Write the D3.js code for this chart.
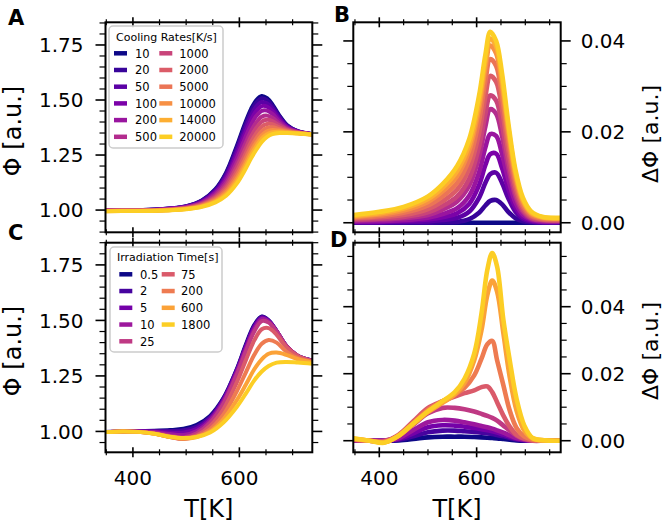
<!DOCTYPE html>
<html>
<head>
<meta charset="utf-8">
<script src="https://cdn.jsdelivr.net/npm/d3@7"></script>
<style>
body { margin: 0; background: #fff; }
text { font-family: "DejaVu Sans", sans-serif; fill: #000; }
</style>
</head>
<body>
<script>
// ---- data ----
const coolRates = ["10", "20", "50", "100", "200", "500", "1000", "2000", "5000", "10000", "14000", "20000"];
const irrTimes = ["0.5", "2", "5", "10", "25", "75", "200", "600", "1800"];

// panel A : Phi vs T for cooling rates
const tempA = [348, 400, 450, 500, 530, 555, 575, 595, 610, 622, 632, 642, 652, 662, 675, 690, 710, 737];
const phiCooling = [
  [1.000, 1.000, 1.004, 1.018, 1.045, 1.095, 1.170, 1.290, 1.390, 1.460, 1.500, 1.518, 1.508, 1.480, 1.430, 1.385, 1.358, 1.345],
  [1.000, 1.000, 1.004, 1.017, 1.044, 1.092, 1.165, 1.282, 1.380, 1.449, 1.489, 1.508, 1.499, 1.473, 1.426, 1.383, 1.358, 1.345],
  [0.999, 1.000, 1.003, 1.016, 1.041, 1.087, 1.156, 1.268, 1.363, 1.431, 1.471, 1.491, 1.485, 1.462, 1.420, 1.380, 1.357, 1.345],
  [0.999, 0.999, 1.003, 1.015, 1.038, 1.082, 1.147, 1.253, 1.344, 1.411, 1.451, 1.472, 1.470, 1.450, 1.412, 1.377, 1.356, 1.345],
  [0.998, 0.999, 1.002, 1.014, 1.035, 1.076, 1.136, 1.236, 1.323, 1.388, 1.428, 1.451, 1.452, 1.437, 1.404, 1.374, 1.355, 1.344],
  [0.998, 0.998, 1.001, 1.012, 1.032, 1.068, 1.123, 1.214, 1.296, 1.359, 1.399, 1.424, 1.429, 1.419, 1.394, 1.369, 1.354, 1.344],
  [0.997, 0.998, 1.000, 1.010, 1.028, 1.061, 1.111, 1.195, 1.272, 1.334, 1.374, 1.402, 1.410, 1.404, 1.385, 1.365, 1.352, 1.344],
  [0.997, 0.997, 0.999, 1.009, 1.025, 1.055, 1.100, 1.176, 1.249, 1.309, 1.349, 1.379, 1.391, 1.390, 1.376, 1.362, 1.351, 1.344],
  [0.996, 0.997, 0.999, 1.007, 1.022, 1.049, 1.089, 1.159, 1.228, 1.287, 1.327, 1.358, 1.373, 1.376, 1.368, 1.358, 1.350, 1.344],
  [0.996, 0.997, 0.998, 1.006, 1.019, 1.043, 1.080, 1.144, 1.209, 1.267, 1.307, 1.339, 1.358, 1.364, 1.361, 1.355, 1.349, 1.343],
  [0.995, 0.996, 0.998, 1.005, 1.017, 1.039, 1.072, 1.132, 1.195, 1.251, 1.291, 1.325, 1.345, 1.354, 1.356, 1.352, 1.349, 1.343],
  [0.995, 0.996, 0.997, 1.004, 1.015, 1.035, 1.065, 1.120, 1.180, 1.235, 1.275, 1.310, 1.333, 1.345, 1.350, 1.350, 1.348, 1.343]
];

// panel B : delta Phi vs T for cooling rates
const tempB = [347, 400, 450, 500, 530, 560, 585, 605, 618, 628, 640, 652, 665, 680, 695, 712, 735, 773];
const dPhiCooling = [
  [0, 0, 0, 0, 0, 0, 0, 0, 0, 0, 0, 0, 0, 0, 0, 0, 0, 0],
  [0, 0, 0, 0, 0.0001, 0.0002, 0.0008, 0.0022, 0.0038, 0.0048, 0.0050, 0.0041, 0.0024, 0.0010, 0.0003, 0.0001, 0, 0],
  [0.0001, 0.0001, 0.0002, 0.0003, 0.0006, 0.0011, 0.0025, 0.0055, 0.0088, 0.0107, 0.0110, 0.0088, 0.0054, 0.0024, 0.0009, 0.0003, 0.0001, 0.0001],
  [0.0002, 0.0002, 0.0004, 0.0007, 0.0012, 0.0021, 0.0042, 0.0083, 0.0127, 0.0151, 0.0152, 0.0121, 0.0075, 0.0034, 0.0013, 0.0005, 0.0002, 0.0002],
  [0.0003, 0.0004, 0.0006, 0.0011, 0.0019, 0.0032, 0.0060, 0.0111, 0.0166, 0.0195, 0.0191, 0.0152, 0.0095, 0.0044, 0.0018, 0.0007, 0.0003, 0.0003],
  [0.0005, 0.0007, 0.0010, 0.0017, 0.0029, 0.0047, 0.0082, 0.0145, 0.0212, 0.0250, 0.0240, 0.0192, 0.0121, 0.0057, 0.0024, 0.0009, 0.0005, 0.0004],
  [0.0007, 0.0009, 0.0013, 0.0023, 0.0037, 0.0058, 0.0098, 0.0167, 0.0240, 0.0280, 0.0269, 0.0216, 0.0137, 0.0066, 0.0028, 0.0011, 0.0006, 0.0005],
  [0.0009, 0.0012, 0.0017, 0.0030, 0.0047, 0.0073, 0.0120, 0.0197, 0.0278, 0.0323, 0.0310, 0.0250, 0.0160, 0.0078, 0.0034, 0.0014, 0.0007, 0.0006],
  [0.0011, 0.0015, 0.0022, 0.0038, 0.0058, 0.0088, 0.0140, 0.0225, 0.0312, 0.0360, 0.0345, 0.0278, 0.0180, 0.0090, 0.0040, 0.0017, 0.0009, 0.0008],
  [0.0013, 0.0018, 0.0027, 0.0046, 0.0069, 0.0103, 0.0160, 0.0250, 0.0340, 0.0390, 0.0373, 0.0302, 0.0198, 0.0100, 0.0046, 0.0020, 0.0011, 0.0009],
  [0.0015, 0.0021, 0.0031, 0.0052, 0.0077, 0.0114, 0.0172, 0.0265, 0.0355, 0.0405, 0.0388, 0.0315, 0.0210, 0.0108, 0.0050, 0.0022, 0.0012, 0.0010],
  [0.0017, 0.0024, 0.0035, 0.0058, 0.0085, 0.0125, 0.0185, 0.0280, 0.0370, 0.0420, 0.0400, 0.0330, 0.0220, 0.0115, 0.0055, 0.0025, 0.0013, 0.0011]
];

// panel C : Phi vs T for irradiation times
const tempC = [348, 380, 410, 440, 470, 495, 520, 545, 570, 595, 612, 628, 642, 655, 670, 688, 710, 737];
const phiIrr = [
  [0.997, 1.000, 1.002, 1.003, 1.006, 1.012, 1.030, 1.070, 1.150, 1.280, 1.390, 1.480, 1.518, 1.500, 1.452, 1.386, 1.340, 1.320],
  [0.997, 1.000, 1.002, 1.002, 1.002, 1.005, 1.022, 1.064, 1.147, 1.277, 1.385, 1.475, 1.516, 1.500, 1.452, 1.386, 1.340, 1.320],
  [0.997, 1.000, 1.001, 1.000, 0.995, 0.995, 1.012, 1.058, 1.142, 1.272, 1.380, 1.470, 1.512, 1.498, 1.450, 1.385, 1.340, 1.318],
  [0.997, 1.000, 1.000, 0.997, 0.988, 0.984, 1.002, 1.050, 1.135, 1.265, 1.370, 1.460, 1.507, 1.495, 1.450, 1.385, 1.340, 1.318],
  [0.997, 1.000, 0.999, 0.993, 0.980, 0.973, 0.992, 1.040, 1.125, 1.255, 1.360, 1.450, 1.497, 1.490, 1.450, 1.385, 1.340, 1.318],
  [0.997, 1.000, 0.998, 0.990, 0.975, 0.966, 0.982, 1.025, 1.100, 1.220, 1.320, 1.410, 1.460, 1.465, 1.435, 1.380, 1.340, 1.316],
  [0.997, 1.000, 0.998, 0.990, 0.975, 0.967, 0.978, 1.010, 1.075, 1.180, 1.265, 1.345, 1.395, 1.412, 1.400, 1.360, 1.330, 1.312],
  [0.997, 1.000, 0.998, 0.990, 0.975, 0.968, 0.975, 1.000, 1.055, 1.140, 1.210, 1.280, 1.325, 1.350, 1.355, 1.345, 1.325, 1.310],
  [0.997, 1.000, 0.998, 0.990, 0.976, 0.970, 0.975, 0.995, 1.040, 1.110, 1.170, 1.230, 1.270, 1.295, 1.310, 1.313, 1.310, 1.305]
];

// panel D : delta Phi vs T for irradiation times
const tempD = [347, 380, 410, 440, 470, 500, 530, 555, 575, 595, 610, 622, 632, 642, 655, 668, 682, 698, 715, 740, 773];
const dPhiIrr = [
  [0, 0, 0, 0.0001, 0.0005, 0.0010, 0.0012, 0.0012, 0.0012, 0.0011, 0.0010, 0.0009, 0.0008, 0.0007, 0.0005, 0.0003, 0.0001, 0, 0, 0, 0],
  [0, 0, 0, 0.0003, 0.0013, 0.0025, 0.0030, 0.0030, 0.0028, 0.0026, 0.0024, 0.0022, 0.0020, 0.0017, 0.0013, 0.0008, 0.0004, 0.0001, 0, 0, 0],
  [0.0001, 0, 0, 0.0005, 0.0022, 0.0040, 0.0046, 0.0045, 0.0042, 0.0038, 0.0034, 0.0031, 0.0028, 0.0024, 0.0018, 0.0012, 0.0006, 0.0002, 0, 0, 0],
  [0.0001, 0, 0, 0.0008, 0.0032, 0.0055, 0.0062, 0.0060, 0.0055, 0.0049, 0.0044, 0.0040, 0.0036, 0.0031, 0.0024, 0.0016, 0.0008, 0.0003, 0, 0, 0],
  [0.0002, 0, 0, 0.0015, 0.0048, 0.0082, 0.0098, 0.0098, 0.0094, 0.0087, 0.0080, 0.0074, 0.0068, 0.0060, 0.0045, 0.0030, 0.0015, 0.0005, 0, 0, 0],
  [0.0003, 0, -0.0002, 0.0018, 0.0058, 0.0098, 0.0118, 0.0132, 0.0142, 0.0150, 0.0160, 0.0162, 0.0145, 0.0115, 0.0075, 0.0042, 0.0018, 0.0006, 0.0001, 0, 0],
  [0.0004, 0, -0.0004, 0.0015, 0.0052, 0.0092, 0.0118, 0.0138, 0.0158, 0.0195, 0.0245, 0.0288, 0.0298, 0.0240, 0.0165, 0.0090, 0.0038, 0.0012, 0.0003, 0, 0],
  [0.0006, 0, -0.0005, 0.0015, 0.0050, 0.0085, 0.0113, 0.0138, 0.0172, 0.0240, 0.0330, 0.0435, 0.0478, 0.0445, 0.0320, 0.0190, 0.0090, 0.0030, 0.0007, 0.0001, 0],
  [0.0007, 0, -0.0006, 0.0015, 0.0052, 0.0088, 0.0118, 0.0145, 0.0185, 0.0260, 0.0380, 0.0510, 0.0560, 0.0520, 0.0360, 0.0240, 0.0125, 0.0045, 0.0008, 0.0001, 0]
];

// tick values
const tMajor = [400, 600];
const tMinor = [350, 450, 500, 550, 650, 700, 750];
const phiMajor = [1.00, 1.25, 1.50, 1.75];
const phiMinor = [0.90, 0.95, 1.05, 1.10, 1.15, 1.20, 1.30, 1.35, 1.40, 1.45, 1.55, 1.60, 1.65, 1.70, 1.80, 1.85];
const dMajor = [0, 0.02, 0.04];
const dMinor = [0.005, 0.01, 0.015, 0.025, 0.03, 0.035, 0.045, 0.05, 0.055];

// ---- drawing ----
let canvas = d3.select("body")
            .append("svg")
            .attr("width", 663)
            .attr("height", 523);

canvas.append("rect").attr("width", 663).attr("height", 523).attr("fill", "#fff");

let plasma = (n) => d3.range(n).map(i => d3.interpolatePlasma(i / (n - 1) * 0.9));

let makePanel = (id, box, xDom, yDom) => {
    let x = d3.scaleLinear().domain(xDom).range([box.x0, box.x1]);
    let y = d3.scaleLinear().domain(yDom).range([box.y1, box.y0]);
    canvas.append("clipPath").attr("id", id)
        .append("rect")
        .attr("x", box.x0).attr("y", box.y0)
        .attr("width", box.x1 - box.x0).attr("height", box.y1 - box.y0);
    return {id, box, x, y};
};

let drawCurves = (p, temps, rows, colors, width) => {
    let line = d3.line()
        .x((d, i) => p.x(temps[i]))
        .y(d => p.y(d))
        .curve(d3.curveCatmullRom.alpha(0.5));
    let g = canvas.append("g").attr("clip-path", `url(#${p.id})`);
    rows.forEach((row, i) => {
        g.append("path")
            .attr("d", line(row))
            .attr("fill", "none")
            .attr("stroke", colors[i])
            .attr("stroke-width", width)
            .attr("stroke-linejoin", "round")
            .attr("stroke-linecap", "round");
    });
};

let tick = (x1, y1, x2, y2, w) => {
    canvas.append("line")
        .attr("x1", x1).attr("y1", y1)
        .attr("x2", x2).attr("y2", y2)
        .attr("stroke", "#000")
        .attr("stroke-width", w);
};

let inside = (s, v) => {
    let d = s.domain();
    return v >= d[0] - 1e-9 && v <= d[1] + 1e-9;
};

let drawFrame = (p, yMajor, yMinor) => {
    let b = p.box;
    // x ticks top & bottom (in-out)
    tMajor.filter(v => inside(p.x, v)).forEach(v => {
        let xx = p.x(v);
        tick(xx, b.y0 - 5, xx, b.y0 + 5, 1.6);
        tick(xx, b.y1 - 5, xx, b.y1 + 5, 1.6);
    });
    tMinor.filter(v => inside(p.x, v)).forEach(v => {
        let xx = p.x(v);
        tick(xx, b.y0 - 3, xx, b.y0 + 3, 1.2);
        tick(xx, b.y1 - 3, xx, b.y1 + 3, 1.2);
    });
    // y ticks left & right (outward)
    yMajor.filter(v => inside(p.y, v)).forEach(v => {
        let yy = p.y(v);
        tick(b.x0 - 10, yy, b.x0, yy, 1.6);
        tick(b.x1, yy, b.x1 + 10, yy, 1.6);
    });
    yMinor.filter(v => inside(p.y, v)).forEach(v => {
        let yy = p.y(v);
        tick(b.x0 - 6, yy, b.x0, yy, 1.2);
        tick(b.x1, yy, b.x1 + 6, yy, 1.2);
    });
    canvas.append("rect")
        .attr("x", b.x0).attr("y", b.y0)
        .attr("width", b.x1 - b.x0).attr("height", b.y1 - b.y0)
        .attr("fill", "none")
        .attr("stroke", "#000")
        .attr("stroke-width", 2);
};

let label = (x, y, txt, size, anchor, weight) => {
    return canvas.append("text")
        .attr("x", x).attr("y", y)
        .attr("font-size", size)
        .attr("text-anchor", anchor || "start")
        .attr("font-weight", weight || "normal")
        .text(txt);
};

let yLabels = (p, vals, fmt, side) => {
    vals.forEach(v => {
        let yy = p.y(v) + 7.3;
        if (side === "left") label(p.box.x0 - 22, yy, fmt(v), 20, "end");
        else label(p.box.x1 + 20, yy, fmt(v), 20, "start");
    });
};

let xLabels = (p) => {
    tMajor.forEach(v => label(p.x(v), 485, v, 20, "middle"));
    label((p.box.x0 + p.box.x1) / 2, 517, "T[K]", 24, "middle");
};

let yTitle = (x, y, txt, size) => {
    canvas.append("text")
        .attr("transform", `translate(${x},${y}) rotate(-90)`)
        .attr("font-size", size)
        .attr("text-anchor", "middle")
        .text(txt);
};

let legend = (box, title, names, colors, perCol, cols, rowY, rowStep) => {
    canvas.append("rect")
        .attr("x", box.x).attr("y", box.y)
        .attr("width", box.w).attr("height", box.h)
        .attr("rx", 4)
        .attr("fill", "#fff").attr("fill-opacity", 0.8)
        .attr("stroke", "#cccccc").attr("stroke-width", 1.5);
    label(box.x + 7, box.titleY, title, 11);
    names.forEach((n, i) => {
        let c = Math.floor(i / perCol), r = i % perCol;
        let cy = rowY + r * rowStep;
        canvas.append("line")
            .attr("x1", cols[c][0]).attr("x2", cols[c][0] + 13)
            .attr("y1", cy).attr("y2", cy)
            .attr("stroke", colors[i]).attr("stroke-width", 4.5);
        label(cols[c][1], cy + 4.2, n, 11.5);
    });
};

let fmt2 = d3.format(".2f");

// panel geometry
let pA = makePanel("clipA", {x0: 105.5, x1: 312.3, y0: 22.3, y1: 232.3}, [348.5, 737], [0.899, 1.853]);
let pB = makePanel("clipB", {x0: 353.3, x1: 560.7, y0: 22.3, y1: 232.3}, [346.6, 772.7], [-0.0021, 0.0441]);
let pC = makePanel("clipC", {x0: 105.5, x1: 312.3, y0: 242.7, y1: 452.3}, [348.5, 737], [0.906, 1.850]);
let pD = makePanel("clipD", {x0: 353.3, x1: 560.7, y0: 242.7, y1: 452.3}, [346.6, 772.7], [-0.00346, 0.0591]);

let coolColors = plasma(coolRates.length);
let irrColors = plasma(irrTimes.length);

drawCurves(pA, tempA, phiCooling, coolColors, 4);
drawCurves(pB, tempB, dPhiCooling, coolColors, 4.6);
drawCurves(pC, tempC, phiIrr, irrColors, 4);
drawCurves(pD, tempD, dPhiIrr, irrColors, 4.6);

drawFrame(pA, phiMajor, phiMinor);
drawFrame(pB, dMajor, dMinor);
drawFrame(pC, phiMajor, phiMinor);
drawFrame(pD, dMajor, dMinor);

yLabels(pA, phiMajor, fmt2, "left");
yLabels(pC, phiMajor, fmt2, "left");
yLabels(pB, dMajor, fmt2, "right");
yLabels(pD, dMajor, fmt2, "right");

xLabels(pC);
xLabels(pD);

yTitle(21, 131, "\u03a6 [a.u.]", 24);
yTitle(21, 351, "\u03a6 [a.u.]", 24);
yTitle(658, 134, "\u0394\u03a6 [a.u.]", 22);
yTitle(658, 351, "\u0394\u03a6 [a.u.]", 22);

label(8, 25, "A", 21, "start", "bold");
label(334, 22, "B", 21, "start", "bold");
label(8, 240, "C", 21, "start", "bold");
label(330, 247, "D", 21, "start", "bold");

legend({x: 109, y: 26, w: 114, h: 122, titleY: 40.5}, "Cooling Rates[K/s]", coolRates, coolColors,
       6, [[114, 135], [159.3, 179.3]], 53.3, 16.7);
legend({x: 110, y: 247, w: 112, h: 105, titleY: 261}, "Irradiation Time[s]", irrTimes, irrColors,
       5, [[119.3, 140], [161.7, 181]], 274.3, 16.75);
</script>
</body>
</html>
